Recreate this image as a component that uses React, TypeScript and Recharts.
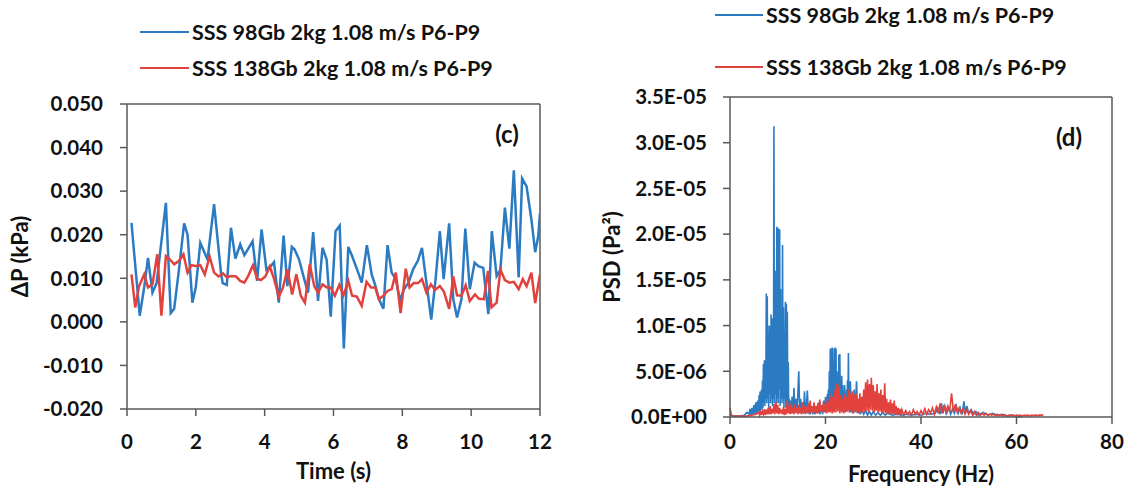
import { Line, LineChart, ReferenceLine, XAxis, YAxis } from "recharts";

const BLUE = "#2B7BC2";
const RED = "#E2423D";
const AXIS = "#595959";
const FONT = "Lato, 'Open Sans', sans-serif";

const SERIES_BLUE = "SSS 98Gb 2kg 1.08 m/s P6-P9";
const SERIES_RED = "SSS 138Gb 2kg 1.08 m/s P6-P9";

// panel (c): pressure drop vs time
const timeTicks = [0, 2, 4, 6, 8, 10, 12];
const dpTicks = [-0.02, -0.01, 0, 0.01, 0.02, 0.03, 0.04, 0.05];

const timeBlue = [
  0.13, 0.37, 0.5, 0.61, 0.74, 0.86, 1.13, 1.27, 1.37, 1.51,
  1.66, 1.76, 1.9, 2.0, 2.13, 2.34, 2.53, 2.73, 2.78, 2.9,
  3.02, 3.15, 3.29, 3.41, 3.65, 3.78, 3.91, 4.05, 4.18, 4.27,
  4.41, 4.55, 4.66, 4.79, 4.87, 5.0, 5.15, 5.26, 5.41, 5.55,
  5.68, 5.8, 5.92, 6.06, 6.18, 6.3, 6.43, 6.54, 6.7, 6.82,
  6.97, 7.11, 7.22, 7.32, 7.45, 7.57, 7.69, 7.81, 7.93, 8.05,
  8.18, 8.31, 8.45, 8.57, 8.7, 8.84, 8.97, 9.09, 9.2, 9.36,
  9.48, 9.59, 9.72, 9.83, 9.96, 10.1, 10.21, 10.35, 10.5, 10.6,
  10.74, 10.85, 10.98, 11.11, 11.24, 11.38, 11.48, 11.61, 11.75, 11.86,
  11.95, 12.0,
];
const dpBlue = [
  0.0227, 0.0014, 0.008, 0.0147, 0.0067, 0.0089, 0.0273, 0.002, 0.003, 0.012,
  0.0226, 0.02, 0.0044, 0.008, 0.0181, 0.0143, 0.027, 0.0113, 0.0089, 0.0085,
  0.0216, 0.0145, 0.0178, 0.0153, 0.0185, 0.0094, 0.0212, 0.012, 0.0128, 0.0137,
  0.0044, 0.0198, 0.0082, 0.0172, 0.0166, 0.0143, 0.0098, 0.0067, 0.0206, 0.0048,
  0.017, 0.0143, 0.0012, 0.0208, 0.0221, -0.0061, 0.0172, 0.0151, 0.0117, 0.009,
  0.0176, 0.0109, 0.0082, 0.0052, 0.003, 0.0176, 0.0113, 0.0098, 0.005, 0.0075,
  0.009, 0.012, 0.014, 0.017, 0.009, 0.0005, 0.0101, 0.0208, 0.0098, 0.0226,
  0.0052, 0.001, 0.0053, 0.0214, 0.0075, 0.0136, 0.0128, 0.0124, 0.0018, 0.0208,
  0.0105, 0.012, 0.0262, 0.0168, 0.0348, 0.0102, 0.0329, 0.0311, 0.0235, 0.016,
  0.0197, 0.025,
];

const timeRed = [
  0.13, 0.24, 0.35, 0.5, 0.61, 0.74, 0.88, 1.0, 1.13, 1.25,
  1.37, 1.51, 1.64, 1.76, 1.87, 2.0, 2.13, 2.26, 2.4, 2.53,
  2.66, 2.79, 2.9, 3.02, 3.17, 3.29, 3.41, 3.52, 3.66, 3.78,
  3.89, 4.02, 4.15, 4.27, 4.41, 4.53, 4.66, 4.8, 4.92, 5.05,
  5.17, 5.31, 5.44, 5.55, 5.68, 5.81, 5.92, 6.04, 6.17, 6.29,
  6.43, 6.54, 6.68, 6.82, 6.96, 7.09, 7.21, 7.32, 7.45, 7.57,
  7.69, 7.81, 7.95, 8.1, 8.21, 8.33, 8.46, 8.57, 8.7, 8.83,
  8.95, 9.09, 9.21, 9.36, 9.48, 9.59, 9.72, 9.84, 9.96, 10.11,
  10.23, 10.37, 10.49, 10.59, 10.74, 10.85, 10.98, 11.11, 11.24, 11.38,
  11.5, 11.61, 11.75, 11.86, 12.0,
];
const dpRed = [
  0.0109, 0.0033, 0.0082, 0.0109, 0.0079, 0.0086, 0.0155, 0.0014, 0.0151, 0.0143,
  0.0132, 0.014, 0.0155, 0.0113, 0.013, 0.0128, 0.013, 0.0109, 0.015, 0.0113,
  0.0104, 0.0111, 0.0102, 0.0105, 0.0104, 0.0094, 0.009, 0.0105, 0.013, 0.0099,
  0.0096, 0.0104, 0.0127, 0.0099, 0.0058, 0.0078, 0.012, 0.0063, 0.0109, 0.006,
  0.0044, 0.0132, 0.0082, 0.0067, 0.0086, 0.0079, 0.0079, 0.006, 0.0085, 0.0061,
  0.0094, 0.006, 0.0058, 0.0037, 0.0092, 0.0079, 0.0079, 0.0052, 0.006, 0.0071,
  0.0075, 0.0113, 0.002, 0.0122, 0.0079, 0.0089, 0.0089, 0.0098, 0.0067, 0.0086,
  0.0073, 0.0082, 0.0069, 0.003, 0.0104, 0.0061, 0.006, 0.0084, 0.0048, 0.0063,
  0.0053, 0.0052, 0.0117, 0.0033, 0.0044, 0.012, 0.0096, 0.009, 0.0092, 0.0075,
  0.0098, 0.0082, 0.0113, 0.0043, 0.0109,
];

// panel (d): power spectral density, [frequency Hz, PSD in 1E-06 Pa²]
const freqTicks = [0, 20, 40, 60, 80];
const psdTicks = [0, 5, 10, 15, 20, 25, 30, 35];

const psdBlue: [number, number][] = [
  [0, 0.3], [0.5, 0.1], [1, 0.1], [2, 0.1], [3, 0.2], [3.5, 0.5],
  [4.0, 0.3], [4.2, 0.9], [4.4, 0.2], [4.6, 1.0], [4.8, 0.3], [5.0, 1.3], [5.2, 0.3], [5.4, 1.6], [5.6, 0.4], [5.8, 1.8],
  [6.0, 0.5], [6.1, 2.4], [6.2, 0.6], [6.3, 2.8], [6.4, 0.7], [6.5, 2.0], [6.6, 3.0], [6.7, 0.8], [6.8, 4.0], [6.9, 1.0],
  [7.0, 5.8], [7.1, 1.5], [7.2, 6.2], [7.3, 1.2], [7.4, 5.0], [7.5, 2.0], [7.6, 13.5], [7.7, 1.5], [7.8, 13.2], [7.9, 2.0],
  [8.0, 9.0], [8.1, 1.0], [8.2, 10.0], [8.3, 2.5], [8.4, 9.9], [8.5, 1.5], [8.6, 11.2], [8.7, 2.0], [8.8, 10.8], [8.9, 1.2],
  [9.0, 8.0], [9.1, 2.0], [9.2, 31.8], [9.3, 1.5], [9.4, 12.0], [9.5, 2.5], [9.6, 16.0], [9.7, 1.0], [9.8, 20.8], [9.9, 2.0],
  [10.0, 20.7], [10.1, 1.5], [10.2, 20.6], [10.3, 3.0], [10.4, 20.5], [10.5, 1.2], [10.6, 14.0], [10.7, 2.0], [10.8, 11.0], [10.9, 1.5],
  [11.0, 18.8], [11.1, 2.0], [11.2, 12.0], [11.3, 1.0], [11.4, 9.0], [11.5, 2.0], [11.6, 12.6], [11.7, 1.0], [11.8, 12.4], [11.9, 1.5],
  [12.0, 11.5], [12.1, 1.0], [12.2, 6.0], [12.3, 0.8], [12.4, 2.0], [12.5, 0.5], [12.6, 1.8], [12.8, 0.4], [13.0, 2.2], [13.2, 0.5],
  [13.4, 3.2], [13.6, 0.4], [13.8, 2.0], [14.0, 0.5], [14.2, 2.4], [14.4, 5.0], [14.6, 0.5], [14.8, 2.0], [15.0, 0.4], [15.2, 1.6],
  [15.4, 0.4], [15.6, 2.8], [15.8, 0.3], [16.0, 1.2], [16.2, 2.9], [16.4, 0.4], [16.6, 1.4], [16.8, 0.3], [17.0, 1.0], [17.4, 0.3],
  [17.6, 1.2], [17.8, 0.3], [18.0, 1.0], [18.4, 0.4], [18.6, 1.6], [18.8, 0.3], [19.2, 1.0], [19.4, 0.3], [19.6, 1.8], [19.8, 0.5],
  [20.0, 2.2], [20.2, 0.5], [20.4, 2.5], [20.5, 0.8], [20.6, 3.0], [20.7, 0.8], [20.8, 5.0], [20.9, 1.0], [21.0, 7.5], [21.1, 1.5],
  [21.2, 7.5], [21.3, 2.0], [21.4, 7.6], [21.5, 1.0], [21.6, 6.0], [21.7, 1.5], [21.8, 7.5], [21.9, 1.0], [22.0, 7.6], [22.1, 2.0],
  [22.2, 7.5], [22.3, 1.0], [22.4, 5.0], [22.5, 1.5], [22.6, 4.0], [22.7, 1.0], [22.8, 6.8], [22.9, 1.5], [23.0, 6.9], [23.1, 1.0],
  [23.2, 3.0], [23.3, 0.8], [23.4, 4.5], [23.5, 1.0], [23.6, 3.5], [23.7, 0.8], [23.8, 2.8], [23.9, 1.0], [24.0, 3.5], [24.1, 0.6],
  [24.2, 2.5], [24.3, 0.8], [24.4, 3.0], [24.5, 0.6], [24.6, 4.0], [24.7, 1.0], [24.8, 7.0], [24.9, 0.8], [25.0, 2.5], [25.1, 0.5],
  [25.2, 3.9], [25.4, 0.5], [25.6, 2.0], [25.8, 0.4], [26.0, 3.0], [26.2, 0.5], [26.5, 3.9], [26.7, 0.4], [27.0, 1.2], [27.3, 0.3],
  [27.6, 0.8], [28.0, 0.3], [28.4, 0.7], [28.8, 0.2], [29.2, 0.6], [29.6, 0.2], [30.0, 0.6], [30.5, 0.2], [31.0, 0.5], [31.5, 0.2],
  [32.0, 0.5], [32.5, 0.2], [33.0, 0.4], [34, 0.2], [35, 0.3], [36, 0.2], [37, 0.3], [38, 0.2], [39, 0.3], [40, 0.2],
  [41, 0.4], [42, 0.3], [43, 0.4], [43.5, 1.0], [44, 0.3], [44.3, 1.5], [44.6, 0.4], [45, 1.2], [45.4, 0.4], [45.8, 1.0],
  [46.2, 0.3], [46.6, 0.9], [47, 0.4], [47.4, 1.2], [47.8, 0.4], [48.2, 1.0], [48.6, 0.3], [49, 1.7], [49.3, 0.4], [49.6, 1.2],
  [50, 0.4], [50.5, 0.8], [51, 0.3], [51.5, 0.6], [52, 0.2], [53, 0.5], [54, 0.2], [55, 0.4], [56, 0.2], [57, 0.3],
  [58, 0.1], [59, 0.2], [60, 0.1], [61, 0.0],
];

const psdRed: [number, number][] = [
  [0, 1.0], [0.3, 0.2], [0.8, 0.1], [1.5, 0.1], [2.5, 0.1], [3.5, 0.1], [4.5, 0.2], [5.5, 0.3],
  [6.0, 0.5], [6.2, 0.2], [6.4, 0.7], [6.6, 0.2], [6.8, 0.6], [7.0, 0.3], [7.2, 0.9], [7.4, 0.2], [7.6, 0.8], [7.8, 0.3],
  [8.0, 1.0], [8.2, 0.3], [8.4, 1.2], [8.6, 0.3], [8.8, 0.9], [9.0, 0.4], [9.2, 1.4], [9.4, 0.3], [9.6, 1.7], [9.8, 0.4],
  [10.0, 1.3], [10.2, 0.3], [10.4, 1.0], [10.6, 0.4], [10.8, 0.8], [11.0, 0.3], [11.2, 1.1], [11.4, 0.2], [11.6, 0.9], [11.8, 0.3],
  [12.0, 1.8], [12.2, 0.4], [12.4, 1.2], [12.6, 0.3], [12.8, 1.5], [13.0, 0.4], [13.2, 1.0], [13.4, 0.3], [13.6, 1.4], [13.8, 0.5],
  [14.0, 1.0], [14.2, 0.3], [14.4, 1.3], [14.6, 0.4], [14.8, 1.0], [15.0, 0.3], [15.2, 1.6], [15.4, 0.4], [15.6, 1.2], [15.8, 0.5],
  [16.0, 1.1], [16.2, 0.4], [16.4, 1.5], [16.6, 0.3], [16.8, 1.8], [17.0, 0.5], [17.2, 1.2], [17.4, 0.4], [17.6, 1.6], [17.8, 0.5],
  [18.0, 1.2], [18.2, 0.4], [18.4, 1.5], [18.6, 0.5], [18.8, 1.9], [19.0, 0.6], [19.2, 1.3], [19.4, 0.5], [19.6, 1.6], [19.8, 0.6],
  [20.0, 1.4], [20.2, 0.4], [20.4, 2.0], [20.6, 0.5], [20.8, 1.7], [21.0, 0.5], [21.2, 2.5], [21.4, 0.4], [21.6, 2.2], [21.8, 0.5],
  [22.0, 3.0], [22.2, 0.5], [22.4, 3.7], [22.6, 0.6], [22.8, 3.5], [23.0, 0.4], [23.2, 2.4], [23.4, 0.5], [23.6, 2.0], [23.8, 0.4],
  [24.0, 2.5], [24.2, 0.5], [24.4, 2.2], [24.6, 0.6], [24.8, 3.0], [25.0, 0.5], [25.2, 2.6], [25.4, 0.6], [25.6, 2.8], [25.8, 0.4],
  [26.0, 2.4], [26.2, 0.6], [26.4, 2.6], [26.6, 0.5], [26.8, 2.0], [27.0, 0.4], [27.2, 2.6], [27.4, 0.6], [27.6, 2.2], [27.8, 0.5],
  [28.0, 3.0], [28.2, 0.6], [28.4, 3.8], [28.6, 0.7], [28.8, 4.1], [29.0, 0.5], [29.2, 3.6], [29.4, 0.8], [29.6, 4.3], [29.8, 0.7],
  [30.0, 3.5], [30.2, 0.5], [30.4, 2.8], [30.6, 0.7], [30.8, 3.6], [31.0, 0.5], [31.2, 2.6], [31.4, 0.6], [31.6, 3.0], [31.8, 0.4],
  [32.0, 2.4], [32.2, 0.5], [32.4, 3.7], [32.6, 0.4], [32.8, 2.0], [33.0, 0.4], [33.2, 1.6], [33.4, 0.3], [33.6, 1.9], [33.8, 0.3],
  [34.0, 1.5], [34.2, 0.3], [34.4, 1.8], [34.6, 0.3], [34.8, 1.2], [35.0, 0.2], [35.2, 1.0], [35.4, 0.3], [35.6, 0.9], [35.8, 0.2],
  [36.0, 0.8], [36.4, 0.2], [36.8, 0.7], [37.2, 0.3], [37.6, 0.6], [38.0, 0.2], [38.4, 0.8], [38.8, 0.3], [39.2, 0.6], [39.6, 0.2],
  [40.0, 0.7], [40.4, 0.3], [40.8, 0.9], [41.2, 0.3], [41.6, 0.8], [42.0, 0.4], [42.4, 1.0], [42.8, 0.3], [43.2, 1.1], [43.6, 0.4],
  [44.0, 1.5], [44.4, 0.4], [44.8, 1.3], [45.2, 0.5], [45.6, 1.2], [46.0, 0.6], [46.4, 2.6], [46.8, 0.5], [47.2, 1.4], [47.6, 0.5],
  [48.0, 1.0], [48.4, 0.4], [48.8, 0.9], [49.2, 0.3], [49.6, 0.8], [50.0, 0.3], [50.4, 0.7], [50.8, 0.2], [51.2, 0.6], [51.6, 0.2],
  [52.0, 0.5], [52.4, 0.2], [52.8, 0.4], [53.2, 0.2], [53.6, 0.4], [54.0, 0.2], [54.4, 0.3], [54.8, 0.2], [55.2, 0.3], [55.6, 0.15],
  [56.0, 0.3], [56.4, 0.15], [56.8, 0.25], [57.2, 0.1], [57.6, 0.25], [58.0, 0.1], [58.4, 0.2], [58.8, 0.15], [59.2, 0.2], [59.6, 0.1],
  [60.0, 0.2], [60.4, 0.15], [60.8, 0.2], [61.2, 0.1], [61.6, 0.2], [62.0, 0.15], [62.4, 0.2], [62.8, 0.1], [63.2, 0.2], [63.6, 0.15],
  [64.0, 0.2], [64.4, 0.15], [64.8, 0.2], [65.2, 0.2], [65.6, 0.2],
];

const zip = (xs: number[], ys: number[]) => xs.map((x, i) => ({ x, y: ys[i] }));
const fromPairs = (pairs: [number, number][]) => pairs.map(([x, y]) => ({ x, y }));

const fmtDp = (v: number) => v.toFixed(3);
const fmtPsd = (v: number) => {
  const [m, e] = (v * 1e-6).toExponential(1).split("e");
  const exp = Math.abs(Number(e)).toString().padStart(2, "0");
  return `${m}E${Number(e) < 0 ? "-" : "+"}${exp}`;
};

const tickStyle = { fill: "#111", fontSize: 20.5, fontWeight: 700, fontFamily: FONT };
const labelStyle = { fill: "#111", fontSize: 22, fontWeight: 700, fontFamily: FONT };

function LegendBox({ left, top, rowHeight, lineWidth }: { left: number; top: number; rowHeight: number; lineWidth: number }) {
  const rows: [string, string, number][] = [
    [BLUE, SERIES_BLUE, 2.5],
    [RED, SERIES_RED, 2],
  ];
  return (
    <div style={{ position: "absolute", left, top, fontFamily: FONT, fontWeight: 700, fontSize: 21.5, color: "#111" }}>
      {rows.map(([color, name, w]) => (
        <div key={name} style={{ height: rowHeight, display: "flex", alignItems: "center", whiteSpace: "nowrap" }}>
          <span style={{ display: "inline-block", width: lineWidth, height: w, background: color, marginRight: 3 }} />
          <span>{name}</span>
        </div>
      ))}
    </div>
  );
}

function PanelTag({ x, y, text }: { x: number; y: number; text: string }) {
  return (
    <div
      style={{
        position: "absolute",
        left: x,
        top: y,
        transform: "translate(-50%, -50%)",
        fontFamily: FONT,
        fontWeight: 700,
        fontSize: 24,
        color: "#111",
      }}
    >
      {text}
    </div>
  );
}

export default function App() {
  return (
    <div style={{ position: "absolute", left: 0, top: 0, width: 1132, height: 495, background: "#fff", overflow: "hidden" }}>
      <div style={{ position: "absolute", left: 0, top: 0 }}>
        <LineChart width={560} height={495} margin={{ top: 104, right: 20, bottom: 16, left: 0 }}>
          <XAxis
            dataKey="x"
            type="number"
            domain={[0, 12]}
            ticks={timeTicks}
            allowDataOverflow
            height={70}
            tickSize={7}
            tickMargin={18}
            tick={tickStyle}
            axisLine={{ stroke: AXIS, strokeWidth: 1.5 }}
            tickLine={{ stroke: AXIS, strokeWidth: 1.5 }}
            label={{ value: "Time (s)", position: "insideBottom", offset: 0, style: labelStyle }}
          />
          <YAxis
            type="number"
            domain={[-0.02, 0.05]}
            ticks={dpTicks}
            allowDataOverflow
            width={127}
            tickSize={7}
            tickMargin={17}
            tick={tickStyle}
            tickFormatter={fmtDp}
            axisLine={{ stroke: AXIS, strokeWidth: 1.5 }}
            tickLine={{ stroke: AXIS, strokeWidth: 1.5 }}
            label={{
              value: "ΔP (kPa)",
              angle: -90,
              position: "insideLeft",
              offset: 20,
              style: { ...labelStyle, textAnchor: "middle" },
            }}
          />
          <ReferenceLine y={0.05} stroke={AXIS} strokeWidth={1.5} />
          <ReferenceLine x={12} stroke={AXIS} strokeWidth={1.5} />
          <Line
            data={zip(timeBlue, dpBlue)}
            dataKey="y"
            name={SERIES_BLUE}
            type="linear"
            stroke={BLUE}
            strokeWidth={2.5}
            dot={false}
            isAnimationActive={false}
          />
          <Line
            data={zip(timeRed, dpRed)}
            dataKey="y"
            name={SERIES_RED}
            type="linear"
            stroke={RED}
            strokeWidth={2.5}
            dot={false}
            isAnimationActive={false}
          />
        </LineChart>
      </div>

      <div style={{ position: "absolute", left: 560, top: 0 }}>
        <LineChart width={572} height={495} margin={{ top: 97, right: 20, bottom: 13, left: 0 }}>
          <XAxis
            dataKey="x"
            type="number"
            domain={[0, 80]}
            ticks={freqTicks}
            height={65}
            tickSize={7}
            tickMargin={10}
            tick={tickStyle}
            axisLine={{ stroke: AXIS, strokeWidth: 1.5 }}
            tickLine={{ stroke: AXIS, strokeWidth: 1.5 }}
            label={{ value: "Frequency (Hz)", position: "insideBottom", offset: 0, style: labelStyle }}
          />
          <YAxis
            type="number"
            domain={[0, 35]}
            ticks={psdTicks}
            width={170}
            tickSize={7}
            tickMargin={16}
            tick={tickStyle}
            tickFormatter={fmtPsd}
            axisLine={{ stroke: AXIS, strokeWidth: 1.5 }}
            tickLine={{ stroke: AXIS, strokeWidth: 1.5 }}
            label={{
              value: "PSD (Pa²)",
              angle: -90,
              position: "insideLeft",
              offset: 52,
              style: { ...labelStyle, textAnchor: "middle" },
            }}
          />
          <ReferenceLine y={35} stroke={AXIS} strokeWidth={1.5} />
          <ReferenceLine x={80} stroke={AXIS} strokeWidth={1.5} />
          <Line
            data={fromPairs(psdBlue)}
            dataKey="y"
            name={SERIES_BLUE}
            type="linear"
            stroke={BLUE}
            strokeWidth={1.6}
            dot={false}
            isAnimationActive={false}
          />
          <Line
            data={fromPairs(psdRed)}
            dataKey="y"
            name={SERIES_RED}
            type="linear"
            stroke={RED}
            strokeWidth={1.6}
            dot={false}
            isAnimationActive={false}
          />
        </LineChart>
      </div>

      <LegendBox left={140} top={14} rowHeight={36} lineWidth={49} />
      <LegendBox left={715} top={-11} rowHeight={52} lineWidth={48} />
      <PanelTag x={507} y={133} text="(c)" />
      <PanelTag x={1069} y={136} text="(d)" />
    </div>
  );
}
